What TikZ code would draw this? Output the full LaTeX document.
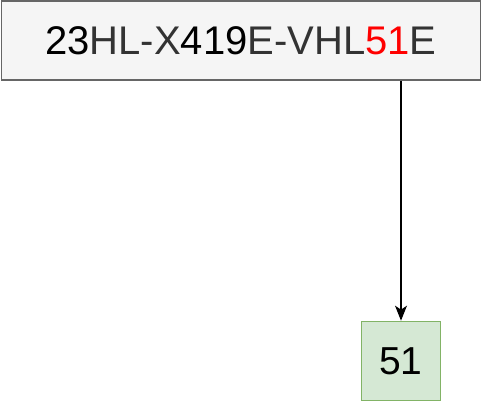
\documentclass[tikz,border=0pt]{standalone}
\usepackage{fontspec}
\setmainfont{Liberation Sans}
\usepackage{tikz}
\usetikzlibrary{positioning,shapes,arrows.meta,calc}
\definecolor{grayfill}{HTML}{F5F5F5}
\definecolor{grayline}{HTML}{666666}
\definecolor{graytext}{HTML}{333333}
\definecolor{greenfill}{HTML}{D5E8D4}
\definecolor{greenline}{HTML}{82B366}
\definecolor{hlred}{HTML}{FF0000}
\tikzstyle{box0} = [rectangle, draw=grayline, fill=grayfill, line width=1.7pt, %
   text centered, inner sep=0pt, text=black, font=\fontsize{40}{48}\selectfont]
\tikzstyle{box1} = [rectangle, draw=greenline, fill=greenfill, line width=1.7pt, %
   text centered, inner sep=0pt, text=black, font=\fontsize{39}{47}\selectfont]
\tikzstyle{line} = [draw, line width=1.3pt, -{Stealth[length=15pt,width=12pt,inset=4pt]}]
\newcommand{\lt}[1]{\textcolor{graytext}{#1}}

\begin{document}
\begin{tikzpicture}[x=1pt,y=-1pt]
   \useasboundingbox (0,0) rectangle (482,402);

   % Code box %%%%%%%%%%%%%%%%%%%%%%%%%%%%%%%%%%%%%%%%%%%%%%%%%%%%%%%
      \node[box0, minimum width=479pt, minimum height=79pt](code) at (241,40.5){%
         23\lt{HL-X}419\lt{E-VHL}\textcolor{hlred}{51}\lt{E}};

   % Extracted part %%%%%%%%%%%%%%%%%%%%%%%%%%%%%%%%%%%%%%%%%%%%%%%%%
      \node[box1, minimum width=79pt, minimum height=79pt](part) at (401,361){51};

      % Draw edges
      \path [line] (code.south -| part) -- (part);

\end{tikzpicture}
\end{document}
